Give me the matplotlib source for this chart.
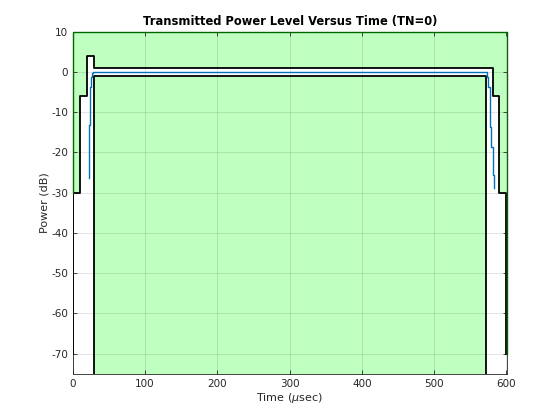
import matplotlib
matplotlib.use("Agg")
import matplotlib.pyplot as plt
import numpy as np

plt.rcParams['axes.unicode_minus'] = False

# Upper mask (time in usec, level in dB)
upper_t = [0, 0, 10.6, 10.6, 19.4, 19.4, 29.1, 29.1, 580.8, 580.8, 589.7, 589.7, 600, 600]
upper_p = [-70, -30, -30, -6, -6, 4, 4, 1, 1, -6, -6, -30, -30, -70]

# Lower mask
lower_t = [29.1, 29.1, 571.8, 571.8]
lower_p = [-75, -1, -1, -75]

# Measured signal (steps-post: level p holds from t_i to t_{i+1})
sig_t = [22.7, 22.7, 24.1, 25.5, 26.9, 27.7, 573.6, 575.0, 577.0, 579.0, 580.8, 582.2, 582.2]
sig_p = [-26.3, -13.2, -3.7, -1.2, -0.35, 0, -1.2, -3.7, -13.6, -18.6, -25.7, -28.9, -28.9]

xticks = [0, 100, 200, 300, 400, 500, 600]
yticks = [-70, -60, -50, -40, -30, -20, -10, 0, 10]

light_green = (0.75, 1.0, 0.75)
dark_green = (0.0, 0.4, 0.0)
txt = (0.15, 0.15, 0.15)

fig = plt.figure(figsize=(5.6, 4.2), dpi=100)
ax = fig.add_axes([0.13, 0.11, 0.775, 0.815])

ymax = 10
ymin = -75
xmax = 600.5

# upper green region (above upper mask)
ax.fill_between(upper_t[1:-1], upper_p[1:-1], ymax, color=light_green, lw=0, zorder=1)
# lower green region (below lower mask)
ax.fill_between(lower_t, ymin, [ymin, -1, -1, ymin], color=light_green, lw=0, zorder=1)

ax.grid(True, color='black', alpha=0.12, lw=0.6, zorder=2)
ax.set_axisbelow(False)

ax.plot(upper_t, upper_p, color='black', lw=1.3, zorder=4)
ax.plot(lower_t, lower_p, color='black', lw=1.3, zorder=4)
ax.plot(sig_t, sig_p, color='#0072BD', lw=1.0, drawstyle='steps-post', zorder=5)

# patch edges
ax.plot([0, 0, xmax, xmax], [-30, ymax, ymax, -70], color=dark_green, lw=1.0,
        zorder=6, clip_on=False)

ax.set_xlim(0, xmax)
ax.set_ylim(ymin, ymax)
ax.set_xticks(xticks)
ax.set_yticks(yticks)
ax.tick_params(direction='in', length=3, width=0.6, top=True, right=True,
               labelsize=7.5, colors=txt, labelcolor=txt)
for s in ax.spines.values():
    s.set_color(txt)
    s.set_linewidth(0.6)
    s.set_zorder(2.5)

ax.set_xlabel(r'Time ($\mu$sec)', fontsize=8, color=txt, labelpad=2)
ax.set_ylabel('Power (dB)', fontsize=8, color=txt, labelpad=1)
ax.set_title('Transmitted Power Level Versus Time (TN=0)', fontsize=8.3, fontweight='bold', pad=5)

fig.savefig('out.png', dpi=100)
